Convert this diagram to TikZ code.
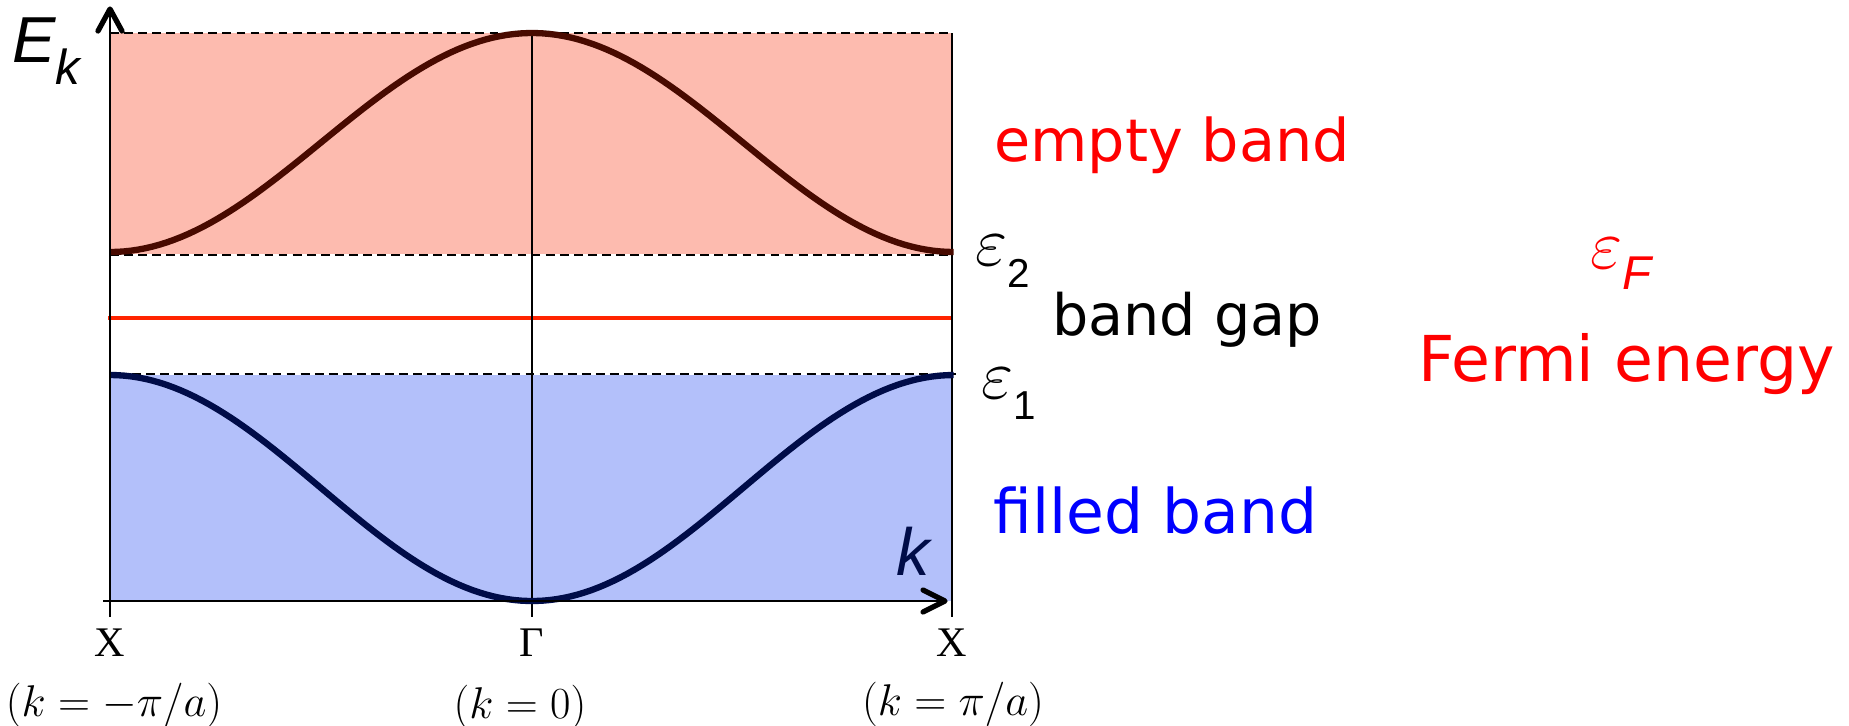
\documentclass[tikz,border=0pt]{standalone}
\usepackage{graphicx}
\usepackage{fontspec}
\usetikzlibrary{arrows.meta}
\newfontfamily\cfont{DejaVu Sans}
\newfontfamily\afont{Liberation Sans}
\newfontfamily\tfont{Liberation Serif}
\definecolor{emptyfill}{RGB}{253,187,175}
\definecolor{filledfill}{RGB}{179,192,250}
\definecolor{browncurve}{RGB}{72,10,0}
\definecolor{navycurve}{RGB}{0,12,72}
\definecolor{fermired}{RGB}{255,36,0}
\tikzset{
  axisline/.style={line width=1.1pt,black},
  chevron/.style={line width=3pt,black,line cap=round,line join=round},
  guide/.style={line width=0.8pt,black,dash pattern=on 5pt off 3pt},
  bandcurve/.style={line width=3.6pt},
  comic/.style={anchor=base west,inner sep=0pt},
  tlabel/.style={font=\tfont\fontsize{24}{24}\selectfont,inner sep=0pt},
  klabel/.style={font=\fontsize{20}{20}\selectfont,inner sep=0pt},
}
\newcommand{\bigeps}{{\fontsize{24}{24}\selectfont\scalebox{1.6}{$\varepsilon$}}}
\newcommand{\myeps}[2]{\bigeps\raisebox{#2}{\afont\fontsize{23}{23}\selectfont #1}}
\begin{document}
\begin{tikzpicture}[x=0.02cm,y=-0.02cm]
\useasboundingbox (0,0) rectangle (1849,725);
% coordinates
\coordinate (TL) at (110,33);
\coordinate (TR) at (952,33);
\coordinate (GT) at (532,33);
% band fills
\fill[emptyfill] (110,33) rectangle (952,254);
\fill[filledfill] (110,375) rectangle (952,601);
% guide dashed lines
\draw[guide] (TL) -- (TR);
\draw[guide] (110,255) coordinate (E2L) -- (952,255) coordinate (E2R);
\draw[guide] (118,374) coordinate (E1L) -- (960,374) coordinate (E1R);
% Fermi level
\draw[fermired,line width=2.3pt] (108,318) coordinate (FL) -- (952,318) coordinate (FR);
% vertical lines
\draw[line width=0.8pt] (GT) -- (532,617) coordinate (GB);
\draw[line width=0.8pt] (TR) -- (952,617) coordinate (RB);
% band curves
\draw[bandcurve,browncurve,domain=-1:1,samples=120] plot ({532+422*\x},{33+219*(1-cos(180*\x))/2});
\draw[bandcurve,navycurve,domain=-1:1,samples=120] plot ({532+422*\x},{601-226*(1-cos(180*\x))/2});
% axes
\coordinate (YB) at (110,617);
\coordinate (YT) at (110,9);
\draw[axisline] (YB) -- (YT);
\draw[chevron] (98,31) -- (YT) -- (122,31);
\coordinate (XL) at (103,601);
\coordinate (XR) at (945,601);
\draw[axisline] (XL) -- (XR);
\draw[chevron] (923,590) -- (XR) -- (923,612);
% labels
\node[anchor=base west,inner sep=0pt,font=\afont\itshape\fontsize{37}{37}\selectfont] (Ek) at (12,62) {E\raisebox{-13pt}{\fontsize{28}{28}\selectfont k}};
\node[anchor=base west,inner sep=0pt,font=\afont\itshape\fontsize{38}{38}\selectfont,text=navycurve] (klab) at (896,575) {k};
\node[comic,text=red,font=\cfont\fontsize{33.5}{34}\selectfont] (empty) at (994,161) {empty band};
\node[comic,text=black,font=\cfont\fontsize{32.5}{34}\selectfont] (gap) at (1052,335) {band gap};
\node[comic,text=blue,font=\cfont\fontsize{35}{36}\selectfont] (filled) at (993,533) {filled band};
\node[comic,text=red,font=\cfont\fontsize{36}{36}\selectfont] (fermi) at (1418,381) {Fermi energy};
\node[anchor=base west,inner sep=0pt] (e2) at (975,265) {\myeps{2}{-13pt}};
\node[anchor=base west,inner sep=0pt] (e1) at (981,398) {\myeps{1}{-12pt}};
\node[anchor=base west,inner sep=0pt,text=red] (eF) at (1590,268) {\bigeps\raisebox{-12pt}{\afont\itshape\fontsize{27}{27}\selectfont F}};
\node[tlabel] (X1) at (110,643) {X};
\node[tlabel] (Gam) at (532,643) {Γ};
\node[tlabel] (X2) at (952,643) {X};
\node[klabel] (k1) at (114,705) {\scalebox{1.22}{$(k=-\pi/a)$}};
\node[klabel] (k0) at (520,707) {\scalebox{1.22}{$(k=0)$}};
\node[klabel] (k2) at (953,704) {\scalebox{1.22}{$(k=\pi/a)$}};
\end{tikzpicture}
\end{document}
